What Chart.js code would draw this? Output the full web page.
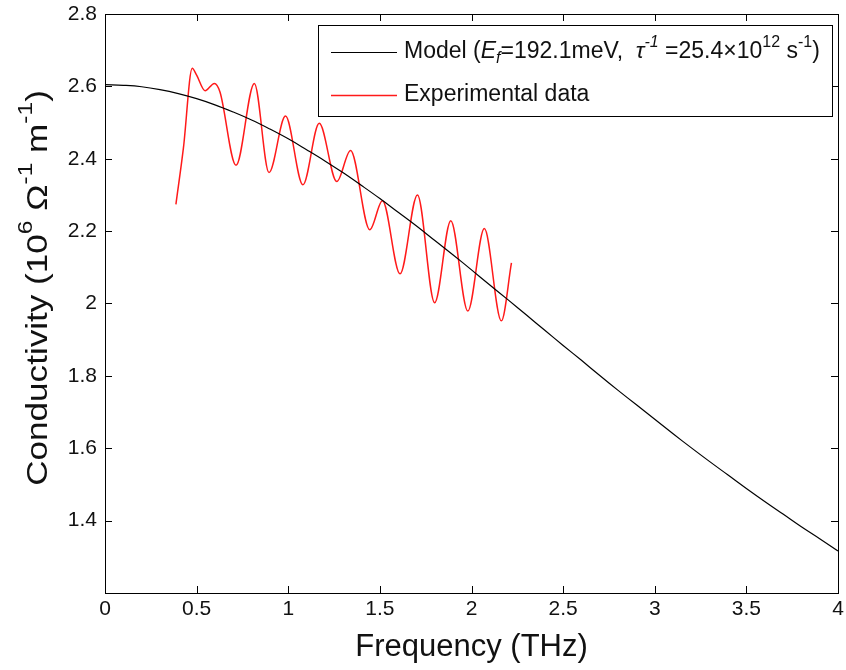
<!DOCTYPE html>
<html>
<head>
<meta charset="utf-8">
<script src="https://cdn.jsdelivr.net/npm/chart.js@4.4.1/dist/chart.umd.min.js"></script>
<style>
  html, body { margin: 0; padding: 0; background: #fff; }
  #wrap { width: 846px; height: 670px; position: relative; }
</style>
</head>
<body>
<div id="wrap"><canvas id="conductivity"></canvas></div>
<script>
// Drude model curve, read every 0.1 THz
const modelFreq = [0, 0.1, 0.2, 0.3, 0.4, 0.5, 0.6, 0.7, 0.8, 0.9, 1.0, 1.1, 1.2, 1.3, 1.4, 1.5, 1.6, 1.7, 1.8, 1.9, 2.0,
  2.1, 2.2, 2.3, 2.4, 2.5, 2.6, 2.7, 2.8, 2.9, 3.0, 3.1, 3.2, 3.3, 3.4, 3.5, 3.6, 3.7, 3.8, 3.9, 4.0];
const modelSigma = [2.605, 2.603, 2.599, 2.591, 2.580, 2.566, 2.549, 2.529, 2.507, 2.482, 2.455, 2.425, 2.394, 2.361,
  2.326, 2.290, 2.252, 2.214, 2.174, 2.134, 2.093, 2.051, 2.010, 1.968, 1.926, 1.884, 1.843, 1.801, 1.760, 1.720,
  1.680, 1.640, 1.601, 1.563, 1.526, 1.489, 1.453, 1.418, 1.383, 1.350, 1.316];

// Experimental data (peaks / troughs of the fringes)
const expFreq = [0.387, 0.428, 0.476, 0.500, 0.546, 0.597, 0.627, 0.715, 0.815, 0.895, 0.985, 1.080, 1.169, 1.265,
  1.340, 1.445, 1.514, 1.610, 1.705, 1.799, 1.887, 1.980, 2.070, 2.163, 2.218];
const expSigma = [2.274, 2.43, 2.650, 2.631, 2.588, 2.608, 2.585, 2.382, 2.608, 2.362, 2.518, 2.328, 2.498, 2.337,
  2.423, 2.204, 2.284, 2.082, 2.300, 2.002, 2.229, 1.979, 2.207, 1.952, 2.112];

const X_TICKS = [0, 0.5, 1, 1.5, 2, 2.5, 3, 3.5, 4];
const Y_TICKS = [1.4, 1.6, 1.8, 2.0, 2.2, 2.4, 2.6, 2.8];

const FONT = '"Liberation Sans", Arial, sans-serif';

// draws rich text pieces [text, 'n'|'sup'|'sub', italic] left to right, returns width
function richText(ctx, parts, x, y, size, measureOnly) {
  let cx = x;
  parts.forEach(([txt, kind, ital]) => {
    const s = kind === 'n' ? size : Math.round(size * 0.7);
    ctx.font = (ital ? 'italic ' : '') + s + 'px ' + FONT;
    const dy = kind === 'sup' ? -size * 0.42 : kind === 'sub' ? size * 0.3 : 0;
    if (!measureOnly) ctx.fillText(txt, cx, y + dy);
    cx += ctx.measureText(txt).width;
  });
  return cx - x;
}

const matlabBox = {
  id: 'matlabBox',
  afterDraw(chart) {
    const { ctx, chartArea: a, scales } = chart;
    ctx.save();
    // axes box
    ctx.strokeStyle = '#000';
    ctx.lineWidth = 1;
    ctx.strokeRect(a.left + 0.5, a.top + 0.5, a.right - a.left, a.bottom - a.top);
    // inward ticks on all four sides
    ctx.beginPath();
    X_TICKS.forEach(v => {
      const px = Math.round(scales.x.getPixelForValue(v)) + 0.5;
      ctx.moveTo(px, a.bottom); ctx.lineTo(px, a.bottom - 7);
      ctx.moveTo(px, a.top); ctx.lineTo(px, a.top + 7);
    });
    Y_TICKS.forEach(v => {
      const py = Math.round(scales.y.getPixelForValue(v)) + 0.5;
      ctx.moveTo(a.left, py); ctx.lineTo(a.left + 7, py);
      ctx.moveTo(a.right, py); ctx.lineTo(a.right - 7, py);
    });
    ctx.stroke();

    // y axis title with superscripts (stretched along its length like the original)
    ctx.fillStyle = '#111';
    ctx.textBaseline = 'middle';
    const yParts = [['Conductivity (10', 'n'], ['6', 'sup'], [' \u03A9', 'n'], ['-1', 'sup'], [' m', 'n'], ['-1', 'sup'], [')', 'n']];
    const w = richText(ctx, yParts, 0, 0, 30, true);
    ctx.save();
    ctx.translate(39, 288);
    ctx.rotate(-Math.PI / 2);
    ctx.scale(1.17, 1);
    richText(ctx, yParts, -w / 2, 0, 30, false);
    ctx.restore();

    // legend
    const L = { left: 318, top: 25, right: 832, bottom: 116 };
    ctx.fillStyle = '#fff';
    ctx.fillRect(L.left, L.top, L.right - L.left, L.bottom - L.top);
    ctx.strokeStyle = '#000';
    ctx.strokeRect(L.left + 0.5, L.top + 0.5, L.right - L.left, L.bottom - L.top);
    const rows = [
      { color: '#000', y: 52, parts: [['Model (', 'n'], ['E', 'n', true], ['f', 'sub', true], ['=192.1meV,  ', 'n'],
        ['\u03C4', 'n', true], ['-1', 'sup', true], [' =25.4\u00D710', 'n'], ['12', 'sup'], [' s', 'n'], ['-1', 'sup'], [')', 'n']] },
      { color: '#ff1a1a', y: 95, parts: [['Experimental data', 'n']] }
    ];
    rows.forEach(r => {
      ctx.strokeStyle = r.color;
      ctx.lineWidth = r.color === '#000' ? 1 : 1.5;
      ctx.beginPath();
      ctx.moveTo(331, r.y + 0.5); ctx.lineTo(397, r.y + 0.5);
      ctx.stroke();
      ctx.fillStyle = '#111';
      richText(ctx, r.parts, 404, r.y, 23, false);
    });
    ctx.restore();
  }
};

document.addEventListener('DOMContentLoaded', () => {
  const ctx = document.getElementById('conductivity').getContext('2d');

  new Chart(ctx, {
    type: 'line',
    data: {
      datasets: [
        {
          label: 'Model',
          data: modelFreq.map((f, i) => ({ x: f, y: modelSigma[i] })),
          borderColor: '#000',
          borderWidth: 1.2,
          pointRadius: 0,
          tension: 0.4,
          fill: false
        },
        {
          label: 'Experimental data',
          data: expFreq.map((f, i) => ({ x: f, y: expSigma[i] })),
          borderColor: '#ff1a1a',
          borderWidth: 1.5,
          pointRadius: 0,
          cubicInterpolationMode: 'monotone',
          fill: false
        }
      ]
    },
    options: {
      responsive: true,
      maintainAspectRatio: false,
      animation: false,
      layout: { padding: { top: 14, right: 8, left: 0, bottom: 0 } },
      plugins: {
        legend: { display: false },
        tooltip: { enabled: false }
      },
      scales: {
        x: {
          type: 'linear',
          min: 0,
          max: 4,
          afterFit: s => { s.height = 77; s.paddingLeft = 0; s.paddingRight = 0; },
          afterBuildTicks: s => { s.ticks = X_TICKS.map(v => ({ value: v })); },
          grid: { display: false, drawTicks: false, tickLength: 0 },
          border: { display: false },
          ticks: {
            padding: 4,
            color: '#111',
            font: { family: FONT, size: 21 },
            maxRotation: 0,
            callback: v => String(v)
          },
          title: {
            display: true,
            text: 'Frequency (THz)',
            color: '#111',
            font: { family: FONT, size: 31 },
            padding: { top: 0, bottom: 4 }
          }
        },
        y: {
          type: 'linear',
          min: 1.2,
          max: 2.8,
          afterFit: s => { s.width = 105; s.paddingTop = 0; s.paddingBottom = 0; },
          afterBuildTicks: s => { s.ticks = Y_TICKS.map(v => ({ value: v })); },
          grid: { display: false, drawTicks: false, tickLength: 0 },
          border: { display: false },
          ticks: {
            padding: 8,
            color: '#111',
            font: { family: FONT, size: 21 },
            callback: v => String(Math.round(v * 10) / 10)
          }
        }
      }
    },
    plugins: [matlabBox]
  });
});
</script>
</body>
</html>
